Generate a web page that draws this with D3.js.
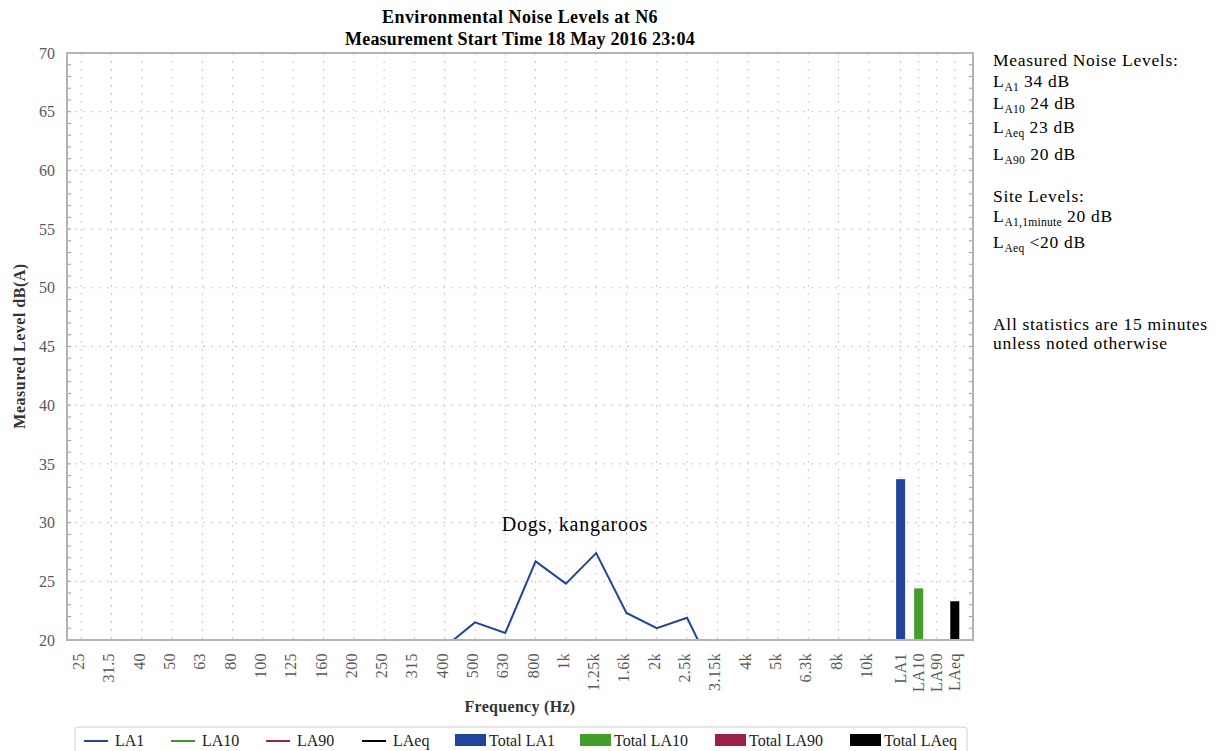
<!DOCTYPE html>
<html>
<head>
<meta charset="utf-8">
<script src="https://cdn.jsdelivr.net/npm/d3@7/dist/d3.min.js"></script>
<style>
  html, body { margin: 0; padding: 0; background: #fff; }
  svg { display: block; font-family: "Liberation Serif", "DejaVu Serif", serif; }
</style>
</head>
<body>
<svg id="chart" width="1216" height="751"></svg>
<script>
// Third-octave band centre frequencies
const freqLabels = ["25","31.5","40","50","63","80","100","125","160","200","250","315","400",
  "500","630","800","1k","1.25k","1.6k","2k","2.5k","3.15k","4k","5k","6.3k","8k","10k"];
// Overall statistics shown as bars at the right of the axis
const totalLabels = ["LA1","LA10","LA90","LAeq"];

// Band levels, dB(A); null where no level is available
const la1Values = [null,null,null,null,null,null,null,null,null,null,null,null,19.4,
  21.5,20.6,26.7,24.8,27.4,22.3,21.0,21.9,16.6,null,null,null,null,null];
const la10Values = [];
const la90Values = [];
const laeqValues = [];

// Overall levels, dB(A)
const totalValues = [33.7, 24.4, 20.0, 23.3];

const yTicks = [20,25,30,35,40,45,50,55,60,65,70];

const seriesNames = ["LA1","LA10","LA90","LAeq"];
const seriesColors = ["#22449c","#3f9a26","#9c2148","#000000"];
const barNames = ["Total LA1","Total LA10","Total LA90","Total LAeq"];
const barColors = ["#22449c","#449e2a","#9c2148","#000000"];

const svg = d3.select("#chart");
const pLeft = 67, pRight = 973, pTop = 53, pBottom = 640;

const y = d3.scaleLinear().domain([20, 70]).range([pBottom, pTop]);
const xFreq = d3.scaleBand().domain(freqLabels).range([66, 884]);
const xTot = d3.scaleBand().domain(totalLabels).range([891.6, 963.8]).paddingInner(0.5).paddingOuter(0.25);
const fx = d => xFreq(d) + xFreq.bandwidth() / 2;
const tx = d => xTot(d) + xTot.bandwidth() / 2;

// Title
svg.append("text").attr("x", 520).attr("y", 23).attr("text-anchor", "middle")
  .attr("font-weight", "bold").attr("font-size", 18).attr("letter-spacing", 0.45).attr("fill", "#000")
  .text("Environmental Noise Levels at N6");
svg.append("text").attr("x", 520).attr("y", 45).attr("text-anchor", "middle")
  .attr("font-weight", "bold").attr("font-size", 18).attr("letter-spacing", 0.2).attr("fill", "#000")
  .text("Measurement Start Time 18 May 2016 23:04");

// Grid
const grid = svg.append("g").attr("stroke", "#c8c8c8").attr("stroke-width", 1).attr("stroke-dasharray", "2,6");
yTicks.filter(v => v > 20 && v < 70).forEach(v => {
  grid.append("line").attr("x1", pLeft).attr("x2", pRight).attr("y1", y(v)).attr("y2", y(v));
});
freqLabels.forEach(d => {
  grid.append("line").attr("x1", fx(d)).attr("x2", fx(d)).attr("y1", pTop).attr("y2", pBottom);
});
totalLabels.forEach(d => {
  grid.append("line").attr("x1", tx(d)).attr("x2", tx(d)).attr("y1", pTop).attr("y2", pBottom);
});

// Minor ticks on both vertical edges
const minor = d3.range(21, 70);
const tickG = svg.append("g").attr("stroke", "#9a9a9a").attr("stroke-width", 1);
minor.forEach(v => {
  tickG.append("line").attr("x1", pLeft).attr("x2", pLeft + 4).attr("y1", y(v)).attr("y2", y(v));
  tickG.append("line").attr("x1", pRight - 4).attr("x2", pRight).attr("y1", y(v)).attr("y2", y(v));
});

// Bars
svg.append("g").selectAll("rect").data(totalLabels).join("rect")
  .attr("x", d => xTot(d))
  .attr("width", xTot.bandwidth())
  .attr("y", (d, i) => y(Math.max(20, totalValues[i])))
  .attr("height", (d, i) => y(20) - y(Math.max(20, totalValues[i])))
  .attr("fill", (d, i) => barColors[i]);

// Lines, clipped to the plot frame
svg.append("clipPath").attr("id", "plotClip").append("rect")
  .attr("x", pLeft).attr("y", pTop).attr("width", pRight - pLeft).attr("height", pBottom - pTop);
const line = d3.line()
  .defined(d => d.v != null)
  .x(d => fx(d.f))
  .y(d => y(d.v));
const lineG = svg.append("g").attr("clip-path", "url(#plotClip)");
[la1Values, la10Values, la90Values, laeqValues].forEach((vals, i) => {
  const pts = freqLabels.map((f, j) => ({ f, v: vals[j] == null ? null : vals[j] }));
  lineG.append("path").datum(pts).attr("d", line)
    .attr("fill", "none").attr("stroke", seriesColors[i]).attr("stroke-width", 2)
    .attr("stroke-linejoin", "miter");
});

// Frame
svg.append("rect").attr("x", pLeft).attr("y", pTop).attr("width", pRight - pLeft).attr("height", pBottom - pTop)
  .attr("fill", "none").attr("stroke", "#b4b4b4").attr("stroke-width", 2);

// Y tick labels
svg.append("g").selectAll("text").data(yTicks).join("text")
  .attr("x", 55).attr("y", d => y(d)).attr("dy", "0.35em")
  .attr("text-anchor", "end").attr("font-size", 16).attr("fill", "#595959")
  .text(d => d);

// X tick labels (rotated)
const xl = svg.append("g").attr("font-size", 16).attr("letter-spacing", 0.4).attr("fill", "#595959");
freqLabels.forEach(d => {
  xl.append("text").attr("transform", `translate(${fx(d) + 3},653) rotate(-90)`)
    .attr("text-anchor", "end").text(d);
});
totalLabels.forEach(d => {
  xl.append("text").attr("transform", `translate(${tx(d) + 5},653) rotate(-90)`)
    .attr("text-anchor", "end").text(d);
});

// Axis titles
svg.append("text").attr("x", 520).attr("y", 712).attr("text-anchor", "middle")
  .attr("font-weight", "bold").attr("font-size", 16).attr("letter-spacing", 0.3).attr("fill", "#333")
  .text("Frequency (Hz)");
svg.append("text").attr("transform", "translate(25,346) rotate(-90)").attr("text-anchor", "middle")
  .attr("font-weight", "bold").attr("font-size", 16).attr("letter-spacing", 0.5).attr("fill", "#333")
  .text("Measured Level dB(A)");

// Annotation
svg.append("text").attr("x", 575).attr("y", 531).attr("text-anchor", "middle")
  .attr("font-size", 20).attr("letter-spacing", 0.8).attr("fill", "#000").text("Dogs, kangaroos");

// Side panel
const panel = svg.append("g").attr("font-size", 17.5).attr("letter-spacing", 0.7).attr("fill", "#000");
function subLine(yPos, main, sub, rest) {
  const t = panel.append("text").attr("x", 993).attr("y", yPos);
  t.append("tspan").text(main);
  t.append("tspan").attr("font-size", 11.5).attr("letter-spacing", 0.3).attr("dy", 4).text(sub);
  t.append("tspan").attr("dy", -4).text(" " + rest);
}
panel.append("text").attr("x", 993).attr("y", 66).text("Measured Noise Levels:");
const subs = ["A1", "A10", "A90", "Aeq"];
const rowY = [87, 109, 160, 133];
[0, 1, 3, 2].forEach(i => subLine(rowY[i], "L", subs[i], Math.round(totalValues[i]) + " dB"));
panel.append("text").attr("x", 993).attr("y", 202).text("Site Levels:");
subLine(222, "L", "A1,1minute", "20 dB");
subLine(248, "L", "Aeq", "<20 dB");
panel.append("text").attr("x", 993).attr("y", 330).text("All statistics are 15 minutes");
panel.append("text").attr("x", 993).attr("y", 349).text("unless noted otherwise");

// Legend
const leg = svg.append("g");
leg.append("rect").attr("x", 75).attr("y", 727).attr("width", 892).attr("height", 40).attr("rx", 3)
  .attr("fill", "#fff").attr("stroke", "#cfcfcf").attr("stroke-width", 1);
const lineItemX = [84, 171, 266, 362];
seriesNames.forEach((n, i) => {
  leg.append("line").attr("x1", lineItemX[i]).attr("x2", lineItemX[i] + 24)
    .attr("y1", 741).attr("y2", 741).attr("stroke", seriesColors[i]).attr("stroke-width", 2);
  leg.append("text").attr("x", lineItemX[i] + 31).attr("y", 746).attr("font-size", 16).attr("fill", "#222").text(n);
});
const barItemX = [455, 580, 715, 850];
barNames.forEach((n, i) => {
  leg.append("rect").attr("x", barItemX[i]).attr("y", 734).attr("width", 31).attr("height", 12)
    .attr("fill", barColors[i]);
  leg.append("text").attr("x", barItemX[i] + 34).attr("y", 746).attr("font-size", 16).attr("fill", "#222").text(n);
});
</script>
</body>
</html>
